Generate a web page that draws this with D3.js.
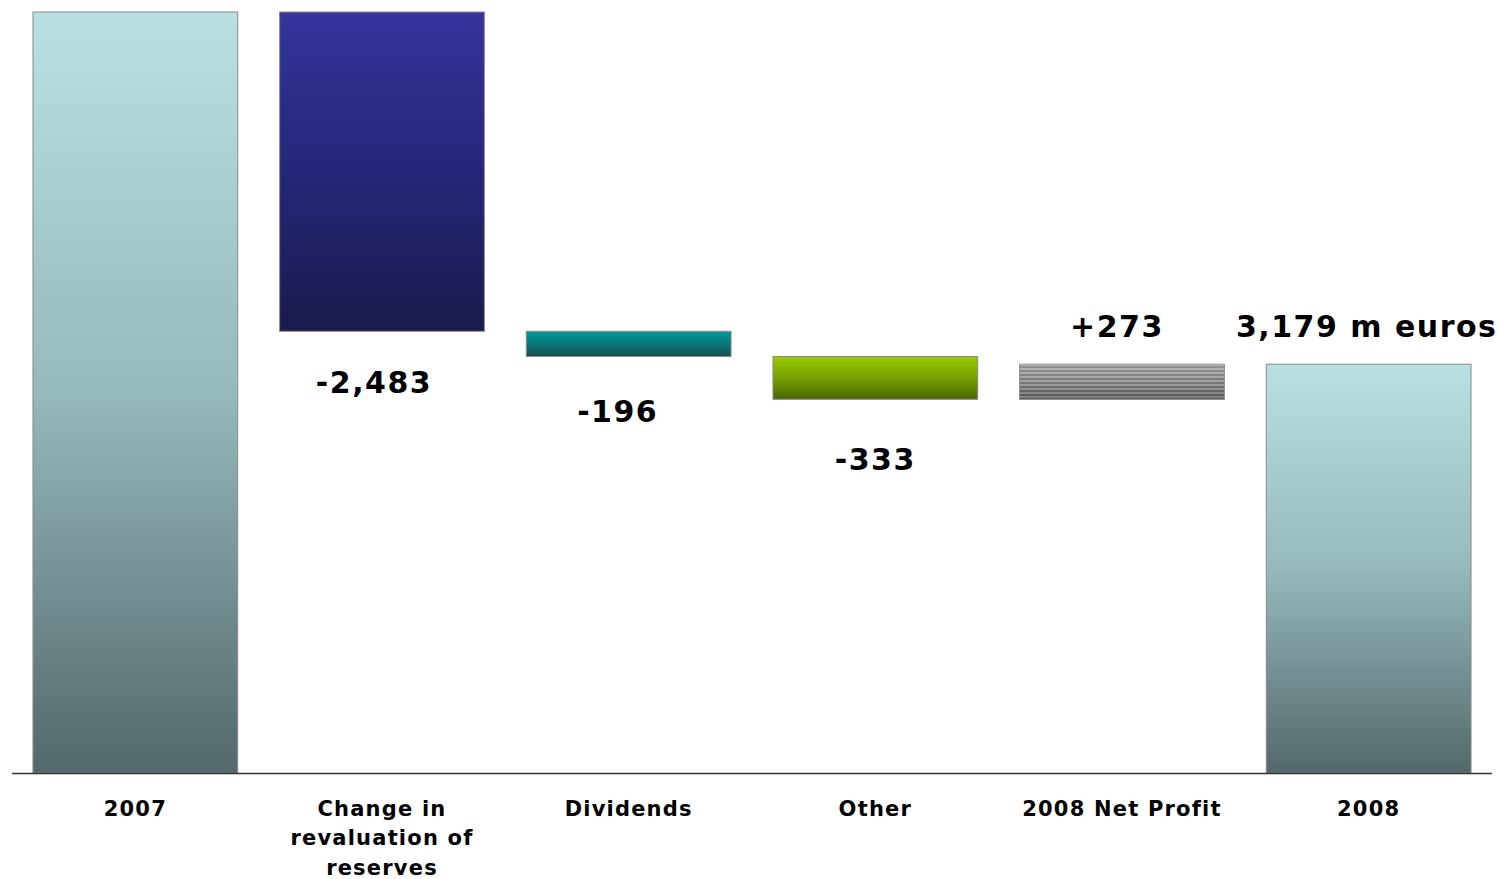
<!DOCTYPE html>
<html>
<head>
<meta charset="utf-8">
<script src="https://cdn.jsdelivr.net/npm/d3@7"></script>
<style>
  html, body { margin: 0; padding: 0; background: #fff; }
  svg { display: block; }
  text { font-family: "DejaVu Sans", Verdana, sans-serif; font-weight: bold; fill: #000; }
</style>
</head>
<body>
<svg id="chart" width="1499" height="879"></svg>
<script>
// Equity bridge 2007 -> 2008 (m euros)
const categories = ["2007", "Change in revaluation of reserves", "Dividends", "Other", "2008 Net Profit", "2008"];
const categoryLines = [["2007"], ["Change in", "revaluation of", "reserves"], ["Dividends"], ["Other"], ["2008 Net Profit"], ["2008"]];
const changes = [null, -2483, -196, -333, 273, null];
const endValue = 3179;
const startValue = endValue - changes.slice(1, 5).reduce((a, b) => a + b, 0);
const valueLabels = ["", "-2,483", "-196", "-333", "+273", "3,179 m euros"];
const kinds = ["total", "reval", "div", "other", "profit", "total"];

// label placement tweaks (dx, dy relative to the bar edge), layout only
const labelNudge = {
  "Change in revaluation of reserves": [-8, 62],
  "Dividends": [-11, 66],
  "Other": [0, 71],
  "2008 Net Profit": [-5, -27],
  "2008": [-2, -27]
};

const svg = d3.select("#chart");
const baseY = 773;

const x = d3.scaleBand().domain(categories).range([12, 1492]).paddingInner(0.17).paddingOuter(0.085);
const y = d3.scaleLinear().domain([0, startValue]).range([baseY, 12]);

// Build waterfall segments
let running = startValue;
const bars = categories.map((c, i) => {
  if (i === 0) return { c, lo: 0, hi: startValue, kind: kinds[i], label: valueLabels[i], dir: 0 };
  if (i === categories.length - 1) return { c, lo: 0, hi: endValue, kind: kinds[i], label: valueLabels[i], dir: 1 };
  const prev = running;
  running += changes[i];
  return { c, lo: Math.min(prev, running), hi: Math.max(prev, running), kind: kinds[i], label: valueLabels[i], dir: changes[i] < 0 ? -1 : 1 };
});

const defs = svg.append("defs");
const grads = {
  total: ["#b9e0e2", "#96b9bb", "#53686a"],
  reval: ["#34349b", "#26267a", "#1a1a4c"],
  div: ["#009a9b", "#0a7676", "#1b4d4f"],
  other: ["#99cc00", "#78a000", "#4a6500"],
  profit: ["#a8a8a8", "#8a8a8a", "#5e5e5e"]
};
Object.entries(grads).forEach(([k, cols]) => {
  const g = defs.append("linearGradient").attr("id", "g-" + k)
    .attr("x1", 0).attr("y1", 0).attr("x2", 0).attr("y2", 1);
  cols.forEach((col, j) => g.append("stop").attr("offset", j / (cols.length - 1)).attr("stop-color", col));
});
// horizontal striping for the net profit bar
const pat = defs.append("pattern").attr("id", "stripes").attr("patternUnits", "userSpaceOnUse")
  .attr("width", 8).attr("height", 4);
pat.append("rect").attr("width", 8).attr("height", 2).attr("fill", "rgba(255,255,255,0.18)");
pat.append("rect").attr("y", 2).attr("width", 8).attr("height", 2).attr("fill", "rgba(0,0,0,0.12)");

const g = svg.append("g");
g.selectAll("rect.bar").data(bars).join("rect")
  .attr("class", "bar")
  .attr("x", d => x(d.c))
  .attr("y", d => y(d.hi))
  .attr("width", x.bandwidth())
  .attr("height", d => y(d.lo) - y(d.hi))
  .attr("fill", d => `url(#g-${d.kind})`)
  .attr("stroke", "#8a8a8a")
  .attr("stroke-width", 1);

g.selectAll("rect.stripe").data(bars.filter(d => d.kind === "profit")).join("rect")
  .attr("class", "stripe")
  .attr("x", d => x(d.c))
  .attr("y", d => y(d.hi))
  .attr("width", x.bandwidth())
  .attr("height", d => y(d.lo) - y(d.hi))
  .attr("fill", "url(#stripes)");

// baseline
svg.append("line").attr("x1", 12).attr("x2", 1492).attr("y1", baseY + 0.5).attr("y2", baseY + 0.5)
  .attr("stroke", "#333").attr("stroke-width", 1.5);

// value labels
svg.selectAll("text.val").data(bars.filter(d => d.label)).join("text")
  .attr("class", "val")
  .attr("x", d => x(d.c) + x.bandwidth() / 2 + labelNudge[d.c][0])
  .attr("y", d => (d.dir === -1 ? y(d.lo) : y(d.hi)) + labelNudge[d.c][1])
  .attr("text-anchor", "middle")
  .attr("font-size", 30)
  .attr("letter-spacing", 1.5)
  .text(d => d.label);

// category labels
const cat = svg.selectAll("text.cat").data(categories).join("text")
  .attr("class", "cat")
  .attr("x", d => x(d) + x.bandwidth() / 2)
  .attr("y", 816)
  .attr("text-anchor", "middle")
  .attr("font-size", 21)
  .attr("letter-spacing", 1.2);
cat.each(function(d, i) {
  d3.select(this).selectAll("tspan").data(categoryLines[i]).join("tspan")
    .attr("x", x(d) + x.bandwidth() / 2)
    .attr("dy", (t, j) => j === 0 ? 0 : 29.3)
    .text(t => t);
});
</script>
</body>
</html>
